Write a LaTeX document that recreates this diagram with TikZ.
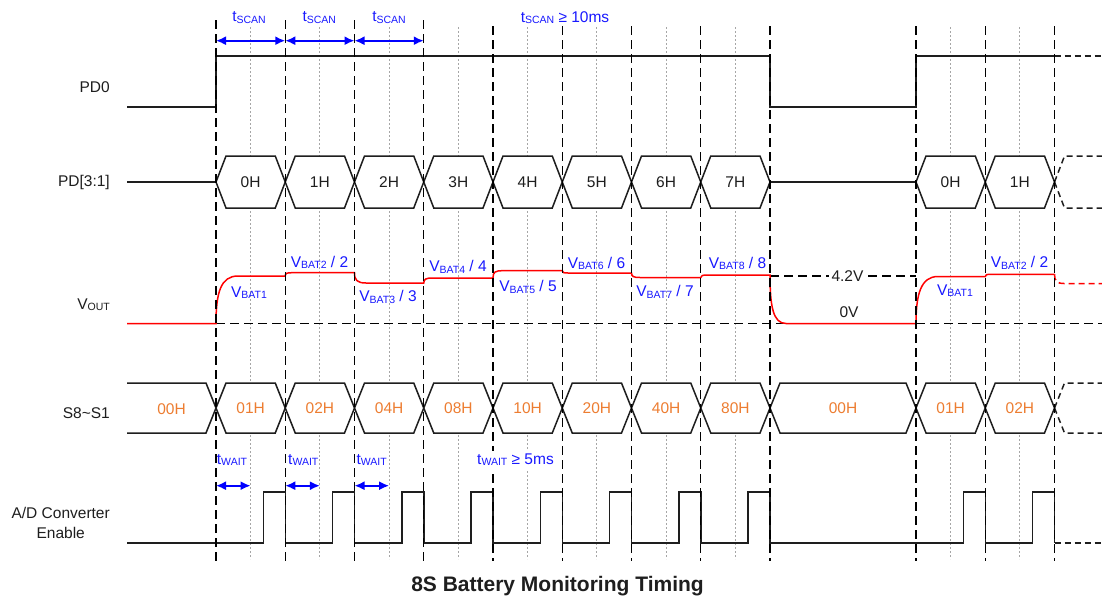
\documentclass[tikz,border=0pt]{standalone}
\usepackage{fontspec}
\setmainfont{Liberation Sans}
\usetikzlibrary{arrows.meta}
\definecolor{busor}{RGB}{237,125,49}
\definecolor{txtblue}{RGB}{25,25,255}
\definecolor{dk}{RGB}{30,30,30}
\newcommand{\fs}{\fontsize{15.5}{20}\selectfont}
\newcommand{\lsub}[1]{\raisebox{-1.3pt}{\fontsize{10.5}{12}\selectfont #1}}
\newcommand{\busseg}[7]{%
  \draw[sig,fill=white] (#1,#3) -- ({#1+10},{#3-#4}) -- ({#2-10},{#3-#4}) -- (#2,#3) -- ({#2-10},{#3+#4}) -- ({#1+10},{#3+#4}) -- cycle;
  \node[#7] (#6) at ({(#1+#2)/2},#3) {#5};}
\begin{document}
\begin{tikzpicture}[x=1pt,y=-1pt,
  sig/.style={line width=1.5pt, dk, line join=miter},
  cont/.style={dash pattern=on 6pt off 4pt},
  gridl/.style={line width=1.4pt, black, dash pattern=on 9pt off 5pt},
  midl/.style={line width=0.9pt, black!35, dash pattern=on 2pt off 2pt},
  vo/.style={line width=1.5pt, red},
  dimarr/.style={line width=1.8pt, blue, {Latex[length=10pt,width=9pt]}-{Latex[length=10pt,width=9pt]}},
  lbl/.style={font=\fs, text=dk, align=center, inner sep=0pt, anchor=east},
  blu/.style={font=\fs, text=txtblue, inner sep=0pt},
  hxk/.style={font=\fs, text=dk, inner sep=0pt},
  hxo/.style={font=\fs, text=busor, inner sep=0pt}]
\fill[white] (0,0) rectangle (1102,597);
\path[use as bounding box] (0,0) rectangle (1102,597);

% gray dotted mid lines
\foreach \xx in {250.6,319.9,389.1,458.4,527.6,596.9,666.1,735.4,950.6,1019.9}
  \draw[midl] (\xx,27) -- (\xx,559);

% signal names
\node[lbl] (nPD0) at (110,86.7) {PD0};
\node[lbl] (nPD31) at (110,182.3) {PD[3:1]};
\node[lbl] (nVOUT) at (110,305) {V\lsub{OUT}};
\node[lbl] (nS) at (110,413) {S8\textasciitilde S1};
\node[lbl] (nAD) at (110,523) {A/D Converter\\Enable};

% PD0
\draw[sig] (127,107) -- (216,107) -- (216,56) -- (770,56) -- (770,107) -- (916,107) -- (916,56) -- (1054.5,56);
\draw[sig,cont] (1054.5,56) -- (1102,56);

% PD[3:1]
\draw[sig] (127,182) -- (216,182);
\draw[sig] (770,182) -- (916,182);
\foreach \k/\t in {0/0H,1/1H,2/2H,3/3H,4/4H,5/5H,6/6H,7/7H}{
  \pgfmathsetmacro\a{216+69.25*\k}
  \pgfmathsetmacro\b{\a+69.25}
  \busseg{\a}{\b}{182}{26}{\t}{pdt\k}{hxk}
}
\busseg{916}{985.25}{182}{26}{0H}{pdt8}{hxk}
\busseg{985.25}{1054.5}{182}{26}{1H}{pdt9}{hxk}
\draw[sig,cont] (1054.5,182) -- (1064.5,156) -- (1102,156);
\draw[sig,cont] (1054.5,182) -- (1064.5,208) -- (1102,208);

% S8~S1
\draw[sig] (127,383) -- (206,383) -- (216,408) -- (206,433) -- (127,433);
\node[hxo] (s00a) at (171.5,409) {00H};
\foreach \k/\t in {0/01H,1/02H,2/04H,3/08H,4/10H,5/20H,6/40H,7/80H}{
  \pgfmathsetmacro\a{216+69.25*\k}
  \pgfmathsetmacro\b{\a+69.25}
  \busseg{\a}{\b}{408}{25}{\t}{st\k}{hxo}
}
\busseg{770}{916}{408}{25}{00H}{st8}{hxo}
\busseg{916}{985.25}{408}{25}{01H}{st9}{hxo}
\busseg{985.25}{1054.5}{408}{25}{02H}{st10}{hxo}
\draw[sig,cont] (1054.5,408) -- (1064.5,383) -- (1102,383);
\draw[sig,cont] (1054.5,408) -- (1064.5,433) -- (1102,433);

% VOUT reference lines
\draw[gridl] (216,323.5) -- (1102,323.5);
\draw[gridl] (770,276) -- (916,276);
\node[font=\fs, text=dk, fill=white, inner xsep=3pt, inner ysep=1pt] (v42) at (847.5,276) {4.2V};
\node[font=\fs, text=dk, inner sep=0pt] (v0) at (849,312) {0V};

% VOUT waveform
\draw[vo] (127,323.5) -- (216,323.5)
  .. controls (216,292) and (221,276) .. (238,276) -- (285.25,276)
  .. controls (285.25,273) and (287,272.7) .. (293,272.7) -- (354.5,272.7)
  .. controls (354.5,280) and (357,283) .. (366,283) -- (423.75,283)
  .. controls (423.75,279) and (426,278) .. (433,278) -- (493,278)
  .. controls (493,272) and (495,270.7) .. (503,270.7) -- (562.25,270.7)
  .. controls (562.25,272.5) and (563.5,273) .. (568,273) -- (631.5,273)
  .. controls (631.5,276.5) and (633.5,277.5) .. (640,277.5) -- (700.75,277.5)
  .. controls (700.75,275.5) and (702.5,275) .. (708,275) -- (770,275)
  .. controls (770,306) and (773,323.5) .. (786,323.5) -- (916,323.5)
  .. controls (916,294) and (921,276.5) .. (938,276.5) -- (985.25,276.5)
  .. controls (985.25,274.8) and (986.5,274.3) .. (991,274.3) -- (1054.5,274.3);
\draw[vo,cont] (1054.5,274.3) .. controls (1054.5,281) and (1057,283.5) .. (1064,283.5) -- (1102,283.5);

% VOUT labels
\node[blu] (b1) at (249,293) {V\lsub{BAT1}};
\node[blu] (b2) at (319.5,262.5) {V\lsub{BAT2} / 2};
\node[blu] (b3) at (388,297) {V\lsub{BAT3} / 3};
\node[blu] (b4) at (458,267) {V\lsub{BAT4} / 4};
\node[blu] (b5) at (528,287) {V\lsub{BAT5} / 5};
\node[blu] (b6) at (596.5,263.5) {V\lsub{BAT6} / 6};
\node[blu] (b7) at (665,292) {V\lsub{BAT7} / 7};
\node[blu] (b8) at (737.5,263.5) {V\lsub{BAT8} / 8};
\node[blu] (b9) at (955,291) {V\lsub{BAT1}};
\node[blu] (b10) at (1019.5,263) {V\lsub{BAT2} / 2};

% A/D converter enable
\draw[sig] (127,543) -- (263.25,543) -- (263.25,492) -- (285.25,492) -- (285.25,543)
  -- (332.5,543) -- (332.5,492) -- (354.5,492) -- (354.5,543)
  -- (401.75,543) -- (401.75,492) -- (423.75,492) -- (423.75,543)
  -- (471,543) -- (471,492) -- (493,492) -- (493,543)
  -- (540.25,543) -- (540.25,492) -- (562.25,492) -- (562.25,543)
  -- (609.5,543) -- (609.5,492) -- (631.5,492) -- (631.5,543)
  -- (678.75,543) -- (678.75,492) -- (700.75,492) -- (700.75,543)
  -- (748,543) -- (748,492) -- (770,492) -- (770,543)
  -- (963.25,543) -- (963.25,492) -- (985.25,492) -- (985.25,543)
  -- (1032.5,543) -- (1032.5,492) -- (1054.5,492) -- (1054.5,543);
\draw[sig,cont] (1054.5,543) -- (1102,543);

% dashed timing lines
\foreach \xx in {216,285.25,354.5,423.75}
  \draw[gridl] (\xx,20) -- (\xx,561);
\foreach \xx in {493,562.25,631.5,700.75,770,916,985.25,1054.5}
  \draw[gridl] (\xx,26) -- (\xx,561);

% t_SCAN
\coordinate (s0) at (216,40.7);
\coordinate (s1) at (285.25,40.7);
\coordinate (s2) at (354.5,40.7);
\coordinate (s3) at (423.75,40.7);
\draw[dimarr] (s0) -- (s1);
\draw[dimarr] (s1) -- (s2);
\draw[dimarr] (s2) -- (s3);
\node[blu] (ts1) at (249,17.5) {t\lsub{SCAN}};
\node[blu] (ts2) at (319.3,17.5) {t\lsub{SCAN}};
\node[blu] (ts3) at (389,17.5) {t\lsub{SCAN}};
\node[blu] (ts4) at (565,17.5) {t\lsub{SCAN} ≥ 10ms};

% t_WAIT
\coordinate (w0a) at (216,485.7);
\coordinate (w0b) at (250.6,485.7);
\coordinate (w1a) at (285.25,485.7);
\coordinate (w1b) at (319.9,485.7);
\coordinate (w2a) at (354.5,485.7);
\coordinate (w2b) at (389.1,485.7);
\draw[dimarr] (w0a) -- (w0b);
\draw[dimarr] (w1a) -- (w1b);
\draw[dimarr] (w2a) -- (w2b);
\node[blu] (tw1) at (232,460) {t\lsub{WAIT}};
\node[blu] (tw2) at (303.3,460) {t\lsub{WAIT}};
\node[blu] (tw3) at (371.7,460) {t\lsub{WAIT}};
\node[blu, fill=white, inner xsep=2pt, inner ysep=3pt] (tw4) at (515.5,460) {t\lsub{WAIT} ≥ 5ms};

% title
\node[font=\fontsize{21}{24}\selectfont\bfseries, text=dk, inner sep=0pt, anchor=base] (title) at (557.5,591) {8S Battery Monitoring Timing};
\end{tikzpicture}
\end{document}
